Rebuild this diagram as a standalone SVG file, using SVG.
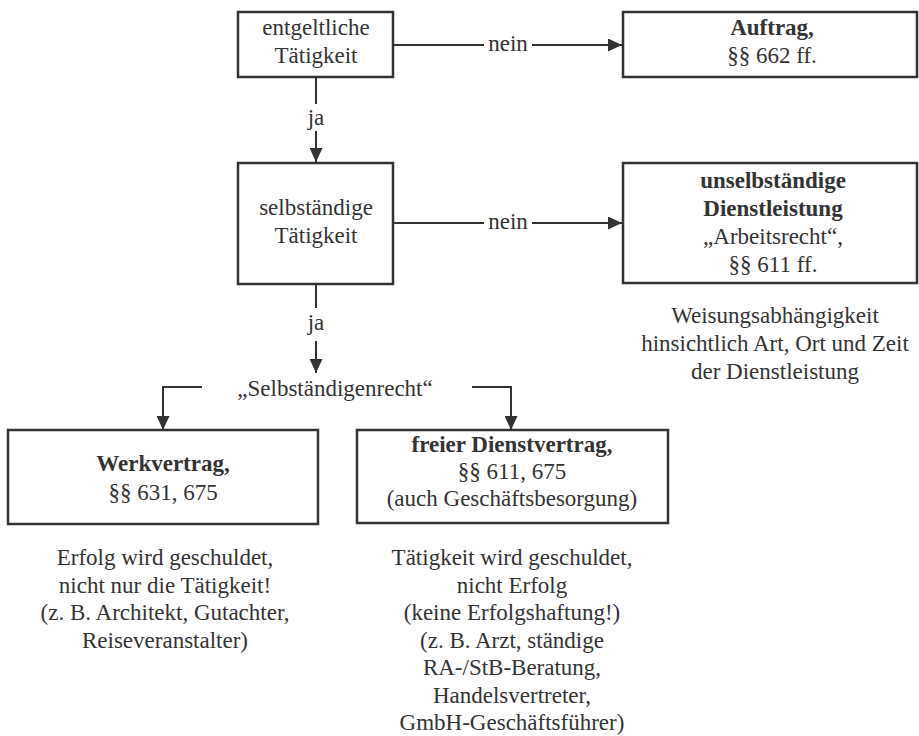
<svg xmlns="http://www.w3.org/2000/svg" width="919" height="736" viewBox="0 0 919 736">
  <style>
    text { font-size: 23px; fill: #333; text-anchor: middle; }
    .b { font-weight: bold; }
    .box { fill: #fff; stroke: #333; stroke-width: 2.5; }
    .ln { fill: none; stroke: #333; stroke-width: 2; }
  </style>
  <defs>
    <marker id="ah" markerUnits="userSpaceOnUse" markerWidth="15" markerHeight="13" refX="14" refY="6.5" orient="auto">
      <path d="M0,0 L14,6.5 L0,13 Z" fill="#333"/>
    </marker>
  </defs>
  <rect width="919" height="736" fill="#fff"/>
  <g font-family="Liberation Serif, DejaVu Serif, serif">
  <g id="connectors">
    <line class="ln" x1="393" y1="45" x2="484" y2="45"/>
    <line class="ln" x1="532" y1="45" x2="622" y2="45" marker-end="url(#ah)"/>
    <text x="508" y="51">nein</text>

    <line class="ln" x1="316" y1="77" x2="316" y2="104"/>
    <text x="316" y="125">ja</text>
    <line class="ln" x1="316" y1="131" x2="316" y2="162" marker-end="url(#ah)"/>

    <line class="ln" x1="393" y1="223" x2="484" y2="223"/>
    <line class="ln" x1="532" y1="223" x2="622" y2="223" marker-end="url(#ah)"/>
    <text x="508" y="229">nein</text>

    <line class="ln" x1="316" y1="284" x2="316" y2="308"/>
    <text x="316" y="330">ja</text>
    <line class="ln" x1="316" y1="341" x2="316" y2="373" marker-end="url(#ah)"/>

    <text x="335" y="396">„Selbständigenrecht“</text>
    <polyline class="ln" points="202,387 163,387 163,430" marker-end="url(#ah)"/>
    <polyline class="ln" points="472,387 511,387 511,430" marker-end="url(#ah)"/>
  </g>

  <g id="entgeltlich">
    <rect class="box" x="238" y="12" width="155" height="65"/>
    <text x="316" y="35">entgeltliche</text>
    <text x="316" y="63">Tätigkeit</text>
  </g>

  <g id="auftrag">
    <rect class="box" x="623" y="12" width="294" height="65"/>
    <text class="b" x="772" y="35">Auftrag,</text>
    <text x="772" y="63">§§ 662 ff.</text>
  </g>

  <g id="selbstaendig">
    <rect class="box" x="238" y="163" width="155" height="121"/>
    <text x="316" y="215">selbständige</text>
    <text x="316" y="243">Tätigkeit</text>
  </g>

  <g id="unselbstaendig">
    <rect class="box" x="623" y="163" width="294" height="120"/>
    <text class="b" x="773" y="188">unselbständige</text>
    <text class="b" x="773" y="216">Dienstleistung</text>
    <text x="773" y="244">„Arbeitsrecht“,</text>
    <text x="773" y="272">§§ 611 ff.</text>
  </g>

  <g id="weisung">
    <text x="775" y="323">Weisungsabhängigkeit</text>
    <text x="775" y="351">hinsichtlich Art, Ort und Zeit</text>
    <text x="775" y="379">der Dienstleistung</text>
  </g>

  <g id="werkvertrag">
    <rect class="box" x="8" y="430" width="310" height="94"/>
    <text class="b" x="163" y="471">Werkvertrag,</text>
    <text x="163" y="500">§§ 631, 675</text>
  </g>

  <g id="dienstvertrag">
    <rect class="box" x="357" y="430" width="311" height="93"/>
    <text class="b" x="512" y="452">freier Dienstvertrag,</text>
    <text x="512" y="479">§§ 611, 675</text>
    <text x="512" y="506">(auch Geschäftsbesorgung)</text>
  </g>

  <g id="werk-note">
    <text x="165" y="565">Erfolg wird geschuldet,</text>
    <text x="165" y="592.5">nicht nur die Tätigkeit!</text>
    <text x="165" y="620">(z. B. Architekt, Gutachter,</text>
    <text x="165" y="647.5">Reiseveranstalter)</text>
  </g>

  <g id="dienst-note">
    <text x="512" y="565">Tätigkeit wird geschuldet,</text>
    <text x="512" y="592.5">nicht Erfolg</text>
    <text x="512" y="620">(keine Erfolgshaftung!)</text>
    <text x="512" y="647.5">(z. B. Arzt, ständige</text>
    <text x="512" y="675">RA-/StB-Beratung,</text>
    <text x="512" y="702.5">Handelsvertreter,</text>
    <text x="512" y="730">GmbH-Geschäftsführer)</text>
  </g>
  </g>
</svg>
